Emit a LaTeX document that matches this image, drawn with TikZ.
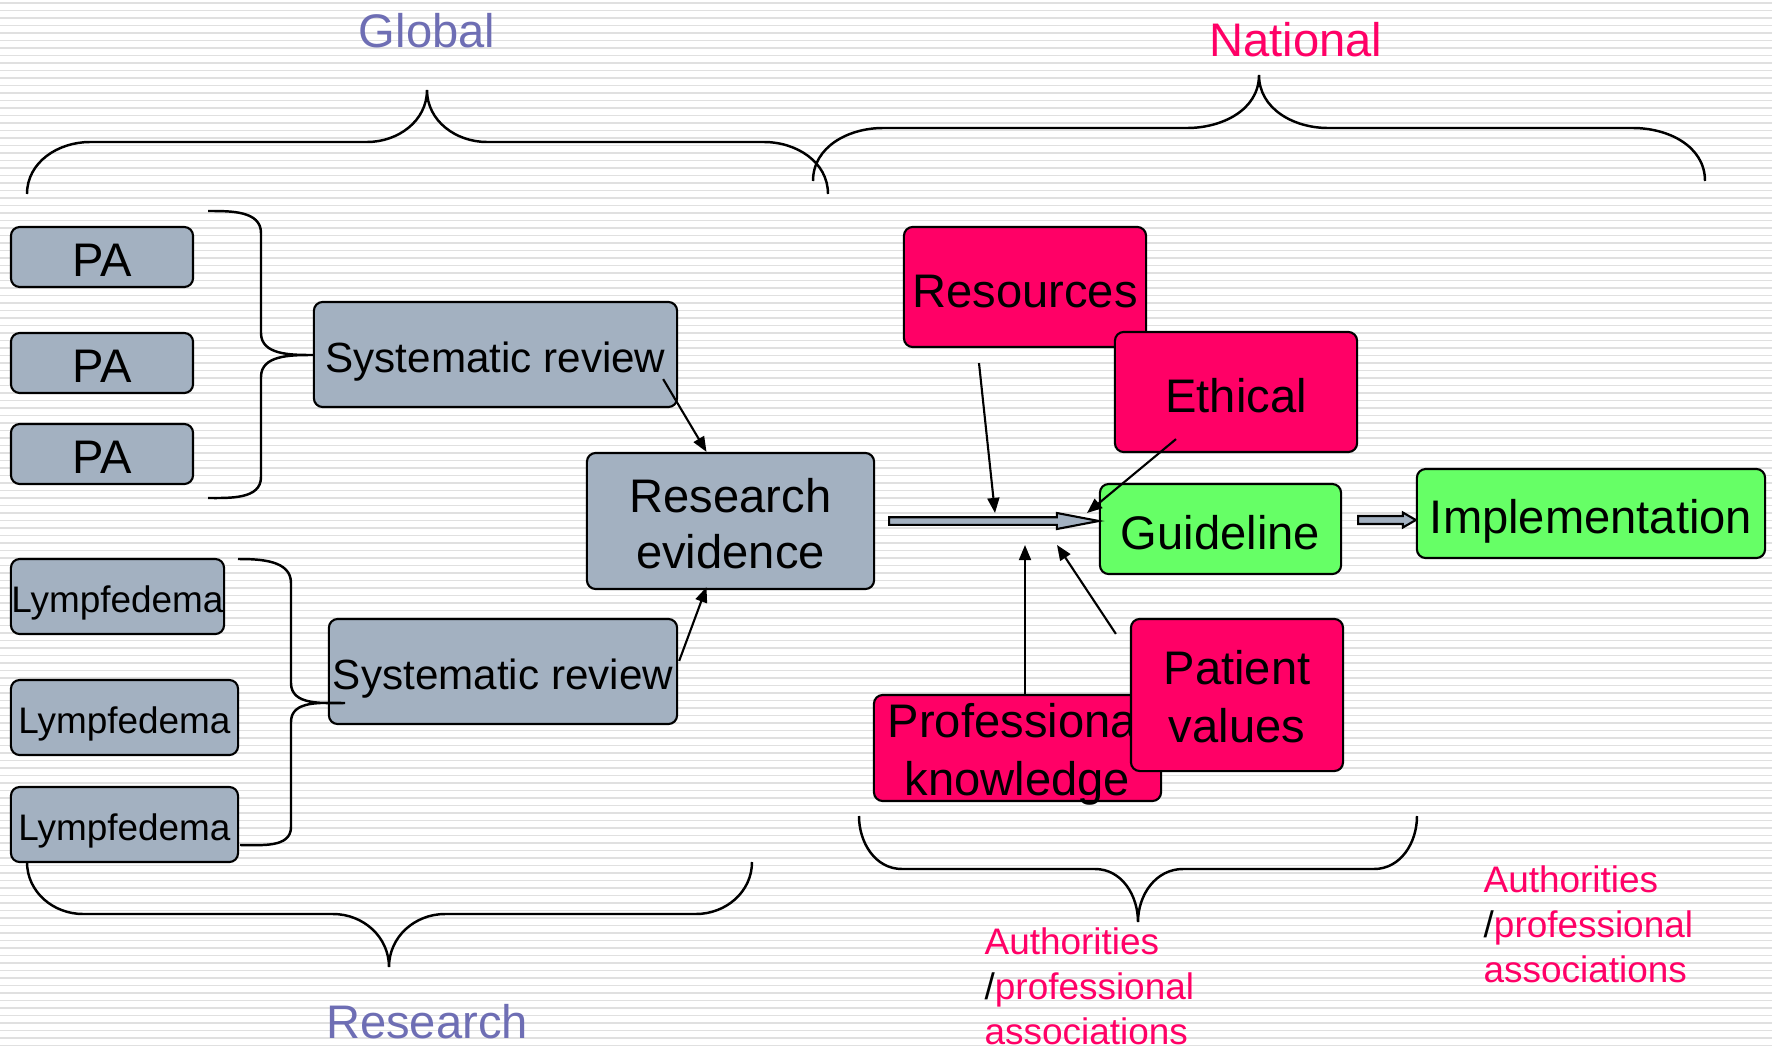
\documentclass[tikz,border=0pt]{standalone}
\usepackage{fontspec}
\setmainfont{Liberation Sans}
\usetikzlibrary{arrows.meta,calc}
\definecolor{bgray}{HTML}{A3B1C1}
\definecolor{pinkc}{HTML}{FF0066}
\definecolor{greenc}{HTML}{66FF66}
\definecolor{titleblue}{HTML}{6E6EB4}
\definecolor{stripec}{HTML}{E0E0E0}
\begin{document}
\begin{tikzpicture}[x=0.01cm,y=-0.01cm,
  stripe/.style={draw=stripec,line width=0.55pt},
  boxbase/.style={draw=black,line width=0.6pt,rounded corners=2.5pt,inner sep=0pt,align=center,font=\fontsize{13.4}{16.3}\selectfont,text height=11.4pt,text depth=0pt},
  gbox/.style={boxbase,fill=bgray},
  pbox/.style={boxbase,fill=pinkc},
  grbox/.style={boxbase,fill=greenc},
  boxtxt/.style={inner sep=0pt,align=center,font=\fontsize{13.4}{16.3}\selectfont},
  small/.style={font=\fontsize{10.5}{12.5}\selectfont,text height=8.9pt},
  mid/.style={font=\fontsize{12}{14}\selectfont,text height=10.2pt},
  brace/.style={draw=black,line width=0.7pt},
  conn/.style={draw=black,line width=0.6pt,-{Triangle[length=4.3pt,width=3.4pt]}},
  blockarrow/.style={draw=black,line width=0.6pt,fill=bgray},
  title/.style={font=\fontsize{13.4}{16}\selectfont,inner sep=0pt},
  auth/.style={font=\fontsize{10.5}{12.8}\selectfont,text=pinkc,align=left,inner sep=0pt,anchor=north west}
]
\useasboundingbox (0,0) rectangle (1772,1045);
\fill[white] (0,0) rectangle (1772,1045);
\foreach \i in {0,...,139} \draw[stripe] (0,{3+7.5*\i}) -- (1772,{3+7.5*\i});

% titles
\node[title,text=titleblue] (tg) at (427,31) {Global};
\node[title,text=pinkc] (tn) at (1296,40) {National};
\node[title,text=titleblue] (tr) at (427,1022) {Research};

% top braces
\draw[brace] (27,194) to[out=90,in=180] (90,142) -- (367,142) to[out=0,in=270] (427,90)
  to[out=270,in=180] (487,142) -- (764,142) to[out=0,in=90] (828,194);
\draw[brace] (813,181) to[out=90,in=180] (883,128) -- (1187,128) to[out=0,in=270] (1259,75)
  to[out=270,in=180] (1328,128) -- (1633,128) to[out=0,in=90] (1705,181);

% left boxes
\node[gbox,minimum width=1.82cm,minimum height=0.6cm,text height=11pt] (pa1) at (102,257) {PA};
\node[gbox,minimum width=1.82cm,minimum height=0.6cm,text height=11pt] (pa2) at (102,363) {PA};
\node[gbox,minimum width=1.82cm,minimum height=0.6cm,text height=11pt] (pa3) at (102,454) {PA};
\node[gbox,small,minimum width=2.13cm,minimum height=0.75cm] (l1) at (117.5,596.5) {Lympfedema};
\node[gbox,small,minimum width=2.27cm,minimum height=0.75cm] (l2) at (124.5,717.5) {Lympfedema};
\node[gbox,small,minimum width=2.27cm,minimum height=0.75cm] (l3) at (124.5,824.5) {Lympfedema};
\node[gbox,mid,minimum width=3.63cm,minimum height=1.05cm] (sr1) at (495.5,354.5) {Systematic review};
\node[gbox,mid,minimum width=3.48cm,minimum height=1.05cm] (sr2) at (503,671.5) {Systematic review};
\node[gbox,minimum width=2.87cm,minimum height=1.36cm] (re) at (730.5,521) {};
\node[boxtxt,font=\fontsize{13.4}{16}\selectfont] (re-t) at ($(re.center)+(0,2.5)$) {Research\\evidence};

% left braces
\draw[brace] (208,211) to[out=0,in=90] (261,233) -- (261,333) to[out=270,in=180] (313,355)
  to[out=180,in=90] (261,377) -- (261,477) to[out=270,in=0] (208,498);
\draw[brace] (238,559) to[out=0,in=90] (291,583) -- (291,683) to[out=270,in=180] (345,703)
  to[out=180,in=90] (291,722) -- (291,827) to[out=270,in=0] (240,845);
\draw[brace] (27,862) to[out=270,in=180] (83,914) -- (333,914) to[out=0,in=90] (389,967)
  to[out=90,in=180] (445,914) -- (696,914) to[out=0,in=270] (752,862);

% right boxes
\node[pbox,minimum width=2.42cm,minimum height=1.2cm] (res) at (1025,287) {Resources};
\node[pbox,minimum width=2.42cm,minimum height=1.2cm] (eth) at (1236,392) {Ethical};
\node[grbox,minimum width=2.41cm,minimum height=0.9cm] (gl) at (1220.5,529) {Guideline};
\node[grbox,minimum width=3.48cm,minimum height=0.89cm] (impl) at (1591,513.5) {Implementation};
\node[pbox,minimum width=2.87cm,minimum height=1.06cm] (prof) at (1017.5,748) {};
\node[boxtxt,font=\fontsize{13.4}{16.6}\selectfont] (prof-t) at ($(prof.center)+(0,6.5)$) {Professional\\knowledge};
\node[pbox,minimum width=2.12cm,minimum height=1.52cm] (pat) at (1237,695) {};
\node[boxtxt,font=\fontsize{13.4}{16.5}\selectfont] (pat-t) at ($(pat.center)+(0,2)$) {Patient\\values};

% bottom right brace
\draw[brace] (859,816) to[out=270,in=180] (902,869) -- (1095,869) to[out=0,in=90] (1138,922)
  to[out=90,in=180] (1183,869) -- (1374,869) to[out=0,in=270] (1417,816);

% authorities labels
\node[auth] (au1) at (984,927) {Authorities\\\textcolor{black}{/}professional\\associations};
\node[auth] (au2) at (1483,865) {Authorities\\\textcolor{black}{/}professional\\associations};

% connectors left
\coordinate (s1) at ($(sr1.south east)+(-15,-29)$);
\coordinate (s2) at ($(sr2.north east)+(1,43)$);
\draw[conn] (s1) -- ($(re.north)+(-24,0)$);
\draw[conn] (s2) -- ($(re.south)+(-24,-3)$);

% big block arrow
\coordinate (a1) at ($(re.east)+(14,0)$);
\coordinate (a2) at (gl.west |- a1);
\draw[blockarrow] ($(a1)+(0,-3.8)$) -- ($(a2)+(-42,-3.8)$) -- ($(a2)+(-42,-8)$) -- (a2)
  -- ($(a2)+(-42,8)$) -- ($(a2)+(-42,3.8)$) -- ($(a1)+(0,3.8)$) -- cycle;

% small block arrow
\coordinate (b1) at ($(gl.east)+(16,-9)$);
\coordinate (b2) at (impl.west |- b1);
\draw[blockarrow] ($(b1)+(0,-4)$) -- ($(b2)+(-13,-4)$) -- ($(b2)+(-13,-7.5)$) -- (b2)
  -- ($(b2)+(-13,7.5)$) -- ($(b2)+(-13,4)$) -- ($(b1)+(0,4)$) -- cycle;

% influence arrows
\coordinate (t1) at (995,513);
\coordinate (t2) at (1087,513);
\coordinate (t3) at (1025,545);
\coordinate (t4) at (1057,545);
\draw[conn] ($(res.south)+(-46,15)$) -- (t1);
\draw[conn] ($(eth.south)+(-60,-14)$) -- (t2);
\draw[conn] ($(prof.north)+(7.5,0)$) -- (t3);
\draw[conn] ($(pat.north west)+(-14,16)$) -- (t4);
\end{tikzpicture}
\end{document}
